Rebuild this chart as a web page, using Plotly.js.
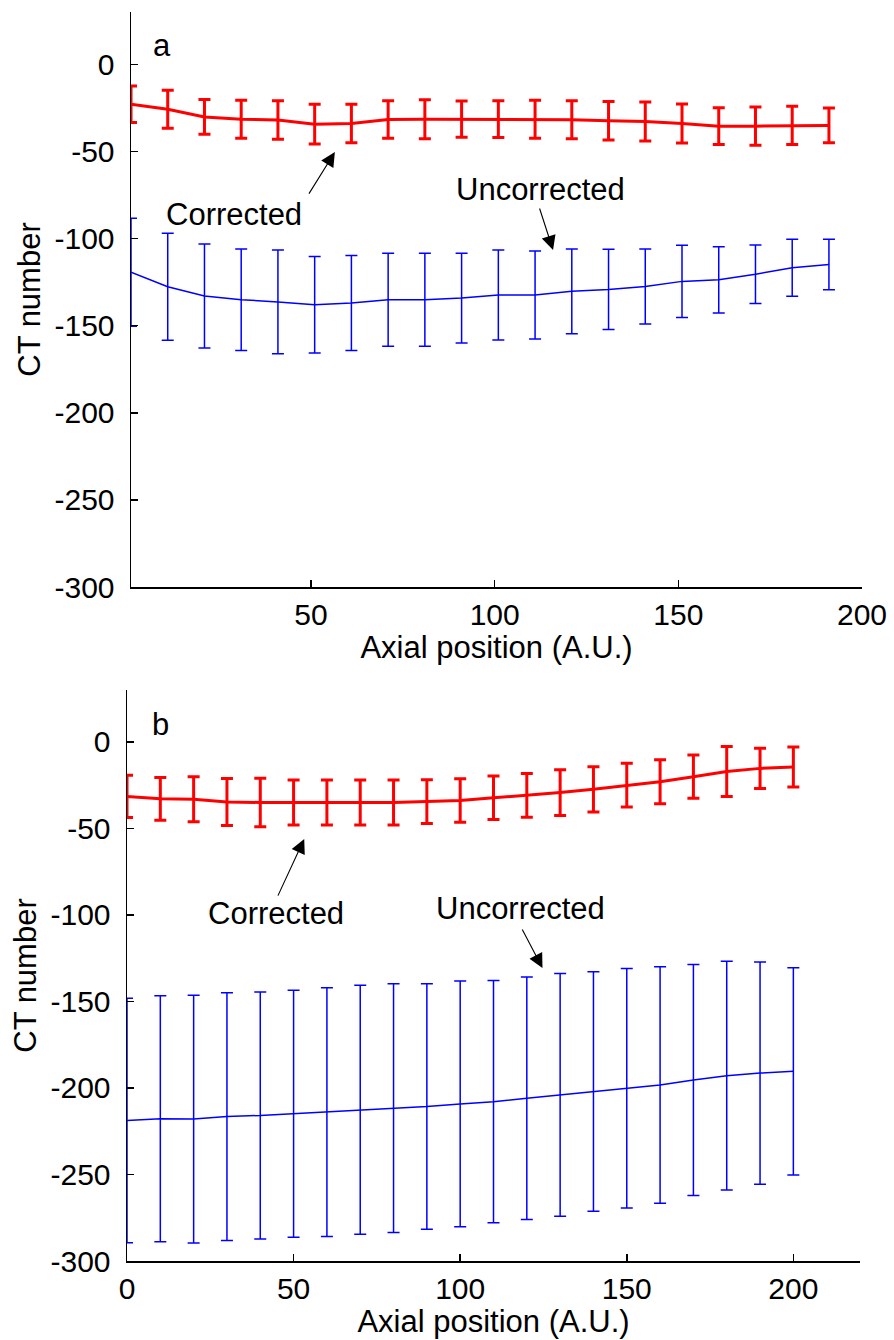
<!DOCTYPE html>
<html>
<head>
<meta charset="utf-8">
<script src="https://cdn.plot.ly/plotly-3.0.1.min.js"></script>
<style>html,body{margin:0;padding:0;background:#fff;}#chart{width:894px;height:1340px;}</style>
</head>
<body>
<div id="chart"></div>
<script>
// Panel a
const xA = [1, 11, 21, 31, 41, 51, 61, 71, 81, 91, 101, 111, 121, 131, 141, 151, 161, 171, 181, 191];
const correctedA = [-22.9, -25.8, -30.2, -31.5, -32, -34.4, -34, -31.7, -31.5, -31.5, -31.5, -31.5, -31.9, -32.4, -32.8, -34, -35.5, -35.5, -35.1, -35.1];
const correctedAErr = [10.5, 10.9, 10, 10.9, 11, 11.4, 11, 10.7, 11.2, 10.4, 10.5, 10.9, 10.9, 11, 11.2, 11.2, 10.5, 11, 11, 10];
const uncorrectedA = [-119.3, -127.7, -133, -135.1, -136.4, -138, -137, -135.1, -135.1, -134.2, -132.4, -132.4, -130.3, -129.2, -127.5, -124.6, -123.7, -120.5, -116.8, -114.9];
const uncorrectedAErr = [31, 30.7, 29.8, 29.1, 29.8, 27.7, 27.2, 26.7, 26.7, 25.7, 25.8, 25.3, 24.3, 23, 21.5, 20.7, 19, 16.8, 16.4, 14.5];

// Panel b
const xB = [0, 10, 20, 30, 40, 50, 60, 70, 80, 90, 100, 110, 120, 130, 140, 150, 160, 170, 180, 190, 200];
const correctedB = [-31.5, -32.9, -33.2, -34.7, -35, -35, -35, -35, -35, -34.5, -33.9, -32.3, -30.9, -29.3, -27.4, -25, -23, -20.1, -17.1, -15.3, -14.5];
const correctedBErr = [12.2, 12.4, 13, 13.6, 14, 13, 13, 13, 13, 12.6, 12.6, 12.6, 12.6, 13.2, 13.1, 12.6, 12.7, 12.5, 14.5, 11.6, 11.5];
const uncorrectedB = [-218.8, -217.8, -218, -216.5, -215.9, -214.9, -214, -212.6, -211.7, -210.7, -209.2, -207.9, -205.9, -204, -202.1, -200.2, -198.3, -195.4, -192.9, -191.4, -190.4];
const uncorrectedBErr = [70.7, 71.1, 71.6, 71.6, 71.4, 71.4, 71.9, 72, 71.9, 71, 71, 70, 70.1, 70.1, 69.2, 69.2, 68.3, 66.8, 66.1, 64.2, 59.9];

const yTicks = [-300, -250, -200, -150, -100, -50, 0];
const yTickText = ['-300', '-250', '-200', '-150', '-100', '-50', '0'];
const xTicksA = [50, 100, 150, 200];
const xTicksB = [0, 50, 100, 150, 200];
const xTitle = 'Axial position (A.U.)';
const yTitle = 'CT number';

const FONT = 'Liberation Sans, Arial, sans-serif';
const RED = '#ff0000', BLUE = '#0000ff';

function series(x, y, err, color, lw, ew, xa, ya) {
  return {
    x: x, y: y, type: 'scatter', mode: 'lines', xaxis: xa, yaxis: ya,
    line: {color: color, width: lw},
    error_y: {type: 'data', array: err, symmetric: true, visible: true, color: color, thickness: ew, width: 6},
    showlegend: false, hoverinfo: 'skip', cliponaxis: false
  };
}

const data = [
  series(xA, correctedA, correctedAErr, RED, 3, 3, 'x', 'y'),
  series(xA, uncorrectedA, uncorrectedAErr, BLUE, 1.5, 1.5, 'x', 'y'),
  series(xB, correctedB, correctedBErr, RED, 3, 3, 'x2', 'y2'),
  series(xB, uncorrectedB, uncorrectedBErr, BLUE, 1.5, 1.5, 'x2', 'y2')
];

function xaxis(range, ticks, domain, anchor) {
  return {
    domain: domain, anchor: anchor, range: range, tickmode: 'array', tickvals: ticks,
    ticks: 'inside', ticklen: 7, tickwidth: 1.5, tickcolor: '#000',
    showline: true, linecolor: '#000', linewidth: 1.5, mirror: false,
    showgrid: false, zeroline: false, automargin: false,
    tickfont: {family: FONT, size: 30, color: '#000'},
    title: {text: xTitle, font: {family: FONT, size: 31, color: '#000'}, standoff: 4}
  };
}
function yaxis(domain, anchor) {
  return {
    domain: domain, anchor: anchor, range: [-300, 30], tickmode: 'array', tickvals: yTicks, ticktext: yTickText,
    ticks: 'inside', ticklen: 7, tickwidth: 1.5, tickcolor: '#000',
    showline: true, linecolor: '#000', linewidth: 1.5, mirror: false,
    showgrid: false, zeroline: false, automargin: false, ticklabelstandoff: 9,
    tickfont: {family: FONT, size: 30, color: '#000'},
    title: {text: yTitle, font: {family: FONT, size: 31, color: '#000'}, standoff: 4}
  };
}

const W = 894, H = 1340;
const ARROW = {showarrow: true, arrowhead: 2, arrowsize: 2.6, arrowwidth: 1.1, arrowcolor: '#000', standoff: 0, text: ''};
const TXT = {showarrow: false, font: {family: FONT, size: 31, color: '#000'}};
const layout = {
  width: W, height: H,
  margin: {l: 0, r: 0, t: 0, b: 0, pad: 0},
  paper_bgcolor: '#fff', plot_bgcolor: '#fff',
  font: {family: FONT, color: '#000'},
  xaxis: xaxis([1, 200], xTicksA, [131 / W, 862 / W], 'y'),
  yaxis: yaxis([1 - 587 / H, 1 - 12 / H], 'x'),
  xaxis2: xaxis([0, 220], xTicksB, [127 / W, 860 / W], 'y2'),
  yaxis2: yaxis([1 - 1261 / H, 1 - 690 / H], 'x2'),
  annotations: [
    Object.assign({xref: 'x', yref: 'y', x: 9.4, y: 10.5, text: 'a'}, TXT),
    Object.assign({xref: 'x', yref: 'y', x: 29, y: -86, text: 'Corrected'}, TXT),
    Object.assign({xref: 'x', yref: 'y', x: 56.5, y: -50.4, axref: 'x', ayref: 'y', ax: 49.2, ay: -75.1}, ARROW),
    Object.assign({xref: 'x', yref: 'y', x: 112.4, y: -71.6, text: 'Uncorrected'}, TXT),
    Object.assign({xref: 'x', yref: 'y', x: 115.9, y: -106.6, axref: 'x', ayref: 'y', ax: 112.1, ay: -81.9}, ARROW),
    Object.assign({xref: 'x2', yref: 'y2', x: 10.2, y: 10.3, text: 'b'}, TXT),
    Object.assign({xref: 'x2', yref: 'y2', x: 44.8, y: -98.9, text: 'Corrected'}, TXT),
    Object.assign({xref: 'x2', yref: 'y2', x: 53.2, y: -56.1, axref: 'x2', ayref: 'y2', ax: 45.1, ay: -89.7}, ARROW),
    Object.assign({xref: 'x2', yref: 'y2', x: 118.1, y: -96.0, text: 'Uncorrected'}, TXT),
    Object.assign({xref: 'x2', yref: 'y2', x: 124.7, y: -130.7, axref: 'x2', ayref: 'y2', ax: 118.4, ay: -107.6}, ARROW)
  ]
};

Plotly.newPlot('chart', data, layout, {staticPlot: true, displayModeBar: false});
</script>
</body>
</html>
